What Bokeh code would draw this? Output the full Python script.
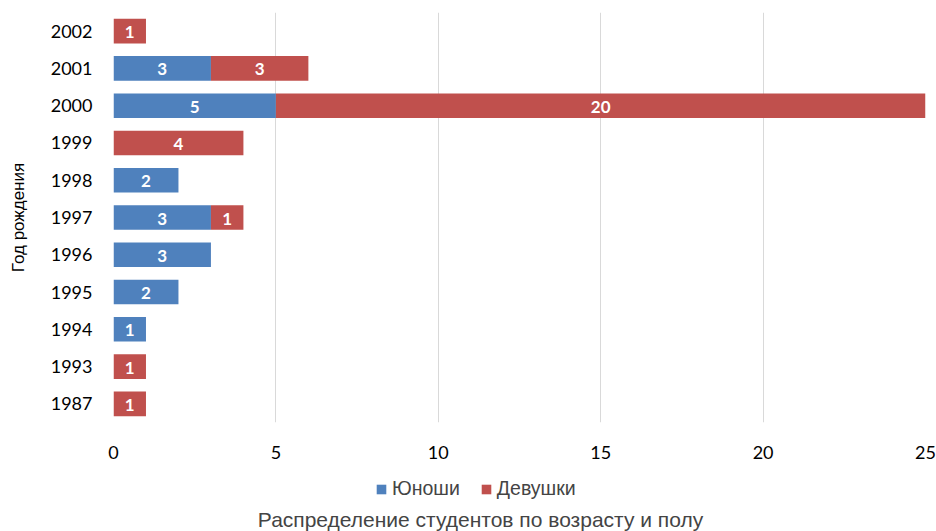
from bokeh.plotting import figure
from bokeh.layouts import column
from bokeh.models import (ColumnDataSource, FactorRange, Range1d, LabelSet, Label,
                          Legend, LegendItem, FixedTicker)
from bokeh.core.properties import value
from bokeh.embed import file_html
from bokeh.resources import INLINE

# Birth years, bottom to top
years = ["1987", "1993", "1994", "1995", "1996", "1997", "1998", "1999", "2000", "2001", "2002"]
boys = [0, 0, 1, 2, 3, 3, 2, 0, 5, 3, 0]
girls = [1, 1, 0, 0, 0, 1, 0, 4, 20, 3, 1]
series_names = ["Юноши", "Девушки"]
x_ticks = [0, 5, 10, 15, 20, 25]
caption = "Распределение студентов по возрасту и полу"

BLUE = "#4F81BD"
RED = "#C0504D"
TICK_FONT = "Lato"
TEXT_FONT = "Liberation Sans"

src = ColumnDataSource(dict(years=years, boys=boys, girls=girls))

p = figure(width=936, height=470, output_backend="svg", toolbar_location=None,
           y_range=FactorRange(*years), x_range=Range1d(0, 25),
           min_border_left=113, min_border_right=11, min_border_top=12,
           min_border_bottom=48)
p.outline_line_color = None

r = p.hbar_stack(["boys", "girls"], y="years", height=0.66, color=[BLUE, RED],
                 line_color=None, source=src)

# value labels at the middle of each non-empty segment
lab_y, lab_x, lab_t = [], [], []
for y, b, g in zip(years, boys, girls):
    if b:
        lab_y.append(y); lab_x.append(b / 2); lab_t.append(str(b))
    if g:
        lab_y.append(y); lab_x.append(b + g / 2); lab_t.append(str(g))
lsrc = ColumnDataSource(dict(x=lab_x, y=lab_y, t=lab_t))
p.add_layout(LabelSet(x="x", y="y", text="t", source=lsrc, text_align="center",
                      text_baseline="middle", text_color="white",
                      text_font=value(TICK_FONT), text_font_style="bold",
                      text_font_size="17px", y_offset=-1))

# axes
p.xaxis.ticker = FixedTicker(ticks=x_ticks)
for ax in (p.xaxis, p.yaxis):
    ax.axis_line_color = None
    ax.major_tick_line_color = None
    ax.minor_tick_line_color = None
    ax.major_label_text_font = TICK_FONT
    ax.major_label_text_font_size = "18px"
    ax.major_label_text_color = "#000000"
p.xaxis.major_label_standoff = 17
p.yaxis.major_label_standoff = 15
p.yaxis.axis_label = "Год рождения"
p.yaxis.axis_label_text_font = TEXT_FONT
p.yaxis.axis_label_text_font_style = "normal"
p.yaxis.axis_label_text_font_size = "17px"
p.yaxis.axis_label_text_color = "#000000"
p.yaxis.axis_label_standoff = 20

p.ygrid.grid_line_color = None
p.xgrid.grid_line_color = "#d9d9d9"
p.xgrid.grid_line_width = 1

# legend and caption strip under the chart; its frame lines up with the
# chart frame (x 113..925 on the page), so x data units equal page pixels
f = figure(width=936, height=61, output_backend="svg", toolbar_location=None,
           x_range=Range1d(113, 925), y_range=Range1d(0, 61),
           x_axis_location=None, y_axis_location=None,
           min_border=0)
f.outline_line_color = None
f.grid.visible = False
# legend keys only: renderers with a single NaN row draw nothing themselves
nan = float("nan")
k0 = f.quad(left=[nan], right=[nan], top=[nan], bottom=[nan], color=BLUE, line_color=None)
k1 = f.quad(left=[nan], right=[nan], top=[nan], bottom=[nan], color=RED, line_color=None)
legend = Legend(items=[LegendItem(label=series_names[0], renderers=[k0]),
                       LegendItem(label=series_names[1], renderers=[k1])],
                orientation="horizontal", location=(262, 31),
                label_text_font=TEXT_FONT, label_text_font_size="19.5px",
                glyph_width=12, glyph_height=12, label_standoff=5,
                spacing=20, border_line_color=None, background_fill_alpha=0,
                padding=0, margin=0)
f.add_layout(legend)
f.add_layout(Label(x=480, y=12, text=caption,
                   text_align="center", text_baseline="middle",
                   text_font=TEXT_FONT, text_font_size="21px"))

open("out.html", "w").write(file_html(column(p, f, spacing=0), INLINE))
